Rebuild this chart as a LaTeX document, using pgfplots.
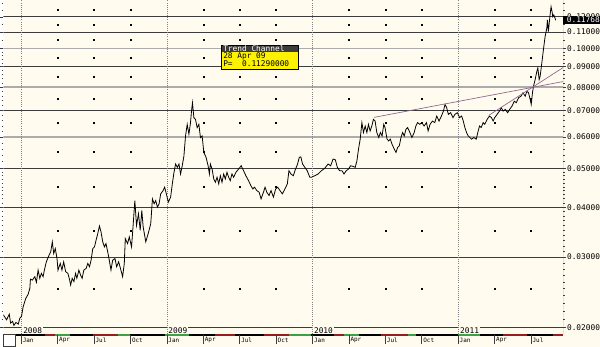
\documentclass[border=0pt]{standalone}
\usepackage{pgfplots}
\pgfplotsset{compat=1.18}
\usepackage{fontspec}
\setmainfont{DejaVu Sans}
\newfontfamily\monofont{DejaVu Sans Mono}
\definecolor{bg}{RGB}{255,251,238}
\definecolor{gridd}{RGB}{60,60,60}
\definecolor{gridl}{RGB}{172,172,172}
\definecolor{trend}{RGB}{140,100,140}
\definecolor{bgreen}{RGB}{60,160,70}
\definecolor{bred}{RGB}{150,30,30}
\newcommand{\lf}{\monofont\fontsize{5.9}{6}\selectfont}
\newcommand{\smf}{\monofont\fontsize{4.5}{5}\selectfont}
\begin{document}
\begin{tikzpicture}
\begin{scope}[x=0.75pt,y=-0.75pt]
\fill[bg] (0,0) rectangle (600,349);
\useasboundingbox (0,0) rectangle (600,349);
\end{scope}
\begin{axis}[
 at={(0pt,0pt)}, anchor=north west,
 scale only axis, width=422.25pt, height=252pt,
 ymode=log,
 xmin=-1.474, xmax=44.636, ymin=0.019246, ymax=0.1323,
 axis line style={draw=none},
 xtick=\empty,
 ytick={0.02,0.03,0.04,0.05,0.06,0.07,0.08,0.09,0.1,0.11,0.12},
 yticklabels={0.02000,0.03000,0.04000,0.05000,0.06000,0.07000,0.08000,0.09000,0.10000,0.11000,0.12000},
 minor ytick={0.021,0.022,0.023,0.024,0.025,0.026,0.027,0.028,0.029,0.031,0.032,0.033,0.034,0.035,0.036,0.037,0.038,0.039,0.041,0.042,0.043,0.044,0.045,0.046,0.047,0.048,0.049,0.052,0.054,0.056,0.058,0.062,0.064,0.066,0.068,0.072,0.074,0.076,0.078,0.082,0.084,0.086,0.088,0.092,0.094,0.096,0.098,0.105,0.115,0.125,0.13},
 yticklabel pos=right,
 tick align=outside,
 major tick length=2.25pt, minor tick length=1.2pt,
 tick style={gridd, line width=0.5pt},
 yticklabel style={font=\lf, text=black, inner sep=0pt, anchor=west, xshift=0.6pt},
 clip=true,
]
% horizontal grid lines
\pgfplotsinvokeforeach{0.02,0.03,0.04,0.05,0.07,0.09,0.11,0.12}{
 \addplot[gridd, line width=0.65pt, forget plot] coordinates {(-1.474,#1)(44.636,#1)};
}
\pgfplotsinvokeforeach{0.06,0.08,0.1}{
 \addplot[gridl, line width=1.3pt, forget plot] coordinates {(-1.474,#1)(44.636,#1)};
}
% Jan dotted verticals
\pgfplotsinvokeforeach{0,12,24,36}{
 \addplot[gray, line width=0.5pt, dash pattern=on 0.5pt off 1.1pt, forget plot] coordinates {(#1,0.019246)(#1,0.1323)};
}
% dot grid
\pgfplotsinvokeforeach{3,6,9,15,18,21,27,30,33,39,42}{
 \addplot[only marks, mark=square*, mark size=0.38pt, mark options={draw=none, fill=gray}, forget plot] coordinates {(#1,0.025)(#1,0.035)(#1,0.045)(#1,0.055)(#1,0.065)(#1,0.075)(#1,0.085)(#1,0.095)(#1,0.105)(#1,0.115)(#1,0.125)};
}
% price series
\addplot[black, line width=0.6pt] coordinates {
(-1.474,0.02150)(-1.204,0.02089)(-0.983,0.02158)(-0.876,0.02050)(-0.713,0.02070)(-0.598,0.02023)(-0.434,0.02058)(-0.246,0.02038)(-0.106,0.02110)(0.025,0.02130)(0.164,0.02256)(0.385,0.02366)(0.573,0.02421)(0.713,0.02506)(0.762,0.02642)(0.925,0.02628)(1.122,0.02680)(1.253,0.02594)(1.392,0.02783)(1.532,0.02654)(1.663,0.02731)(1.802,0.02680)(1.941,0.02810)(2.072,0.02920)(2.293,0.03033)(2.432,0.03093)(2.563,0.03276)(2.678,0.03063)(2.809,0.03152)(2.948,0.02976)(3.030,0.02783)(3.219,0.02892)(3.358,0.02783)(3.497,0.02920)(3.661,0.02758)(3.849,0.02731)(3.989,0.02628)(4.070,0.02553)(4.201,0.02654)(4.341,0.02604)(4.480,0.02731)(4.586,0.02654)(4.750,0.02783)(4.889,0.02704)(5.020,0.02654)(5.160,0.02783)(5.348,0.02810)(5.487,0.02892)(5.627,0.02838)(5.758,0.02947)(5.897,0.03152)(6.036,0.03183)(6.167,0.03305)(6.306,0.03435)(6.446,0.03590)(6.577,0.03469)(6.716,0.03276)(6.855,0.03183)(6.986,0.03244)(7.207,0.03005)
(7.396,0.02783)(7.535,0.02947)(7.723,0.02976)(7.862,0.02838)(8.026,0.02920)(8.215,0.02783)(8.354,0.02680)(8.493,0.02892)(8.575,0.03338)(8.763,0.03244)(8.903,0.03371)(9.091,0.03183)(9.230,0.03638)(9.361,0.04158)(9.500,0.03602)(9.664,0.03853)(9.803,0.03501)(9.935,0.03926)(10.049,0.03570)(10.262,0.03276)(10.459,0.03435)(10.672,0.03638)(10.811,0.04199)(10.950,0.04081)(11.081,0.04158)(11.220,0.04004)(11.360,0.04081)(11.491,0.04321)(11.687,0.04404)(11.818,0.04491)(11.957,0.04321)(12.121,0.04120)(12.310,0.04240)(12.449,0.04577)(12.588,0.04894)(12.719,0.05133)(12.859,0.05037)(12.998,0.05133)(13.129,0.04847)(13.268,0.05083)(13.407,0.05383)(13.538,0.06037)(13.677,0.06457)(13.817,0.06097)(13.948,0.06520)(14.030,0.06968)(14.111,0.07313)(14.226,0.06710)(14.357,0.06645)(14.496,0.06336)(14.636,0.06457)(14.767,0.05982)(14.906,0.06037)(15.045,0.05489)(15.233,0.05334)(15.397,0.05083)(15.504,0.04847)
(15.586,0.05133)(15.725,0.04988)(15.864,0.04710)(15.995,0.04621)(16.134,0.04756)(16.274,0.04577)(16.405,0.04799)(16.544,0.04621)(16.683,0.04847)(16.814,0.04710)(16.953,0.04894)(17.093,0.04756)(17.224,0.04663)(17.363,0.04847)(17.502,0.04756)(17.690,0.04894)(17.912,0.04988)(18.124,0.05083)(18.321,0.04939)(18.509,0.04799)(18.731,0.04663)(18.919,0.04532)(19.083,0.04447)(19.222,0.04491)(19.410,0.04404)(19.599,0.04364)(19.762,0.04199)(19.959,0.04364)(20.090,0.04491)(20.229,0.04364)(20.418,0.04279)(20.582,0.04404)(20.778,0.04240)(20.966,0.04447)(21.130,0.04491)(21.319,0.04404)(21.515,0.04321)(21.728,0.04447)(21.925,0.04577)(22.056,0.04939)(22.220,0.04847)(22.416,0.04799)(22.604,0.04988)(22.768,0.05133)(22.907,0.05334)(23.038,0.05352)(23.178,0.05133)(23.366,0.05037)(23.563,0.04939)(23.776,0.04756)
(23.915,0.04756)(24.185,0.04799)(24.464,0.04847)(24.734,0.04939)(25.004,0.05008)(25.283,0.05133)(25.496,0.05083)(25.692,0.05282)(25.880,0.05260)(26.044,0.05037)(26.233,0.04939)(26.429,0.04939)(26.593,0.04847)(26.781,0.04939)(26.970,0.04988)(27.134,0.05083)(27.330,0.05065)(27.518,0.05037)(27.658,0.05230)(27.789,0.05594)(27.928,0.05925)(28.067,0.06520)(28.198,0.06157)(28.337,0.06393)(28.477,0.06157)(28.608,0.06457)(28.747,0.06213)(28.886,0.06393)(29.017,0.06645)(29.156,0.06579)(29.296,0.06157)(29.459,0.05982)(29.590,0.06157)(29.730,0.06037)(29.869,0.06457)(29.975,0.06336)(30.139,0.05925)(30.278,0.05866)(30.409,0.05925)(30.549,0.05757)(30.737,0.05594)(30.876,0.05489)(31.015,0.05649)(31.147,0.05700)(31.286,0.05982)(31.425,0.06157)(31.556,0.06037)(31.695,0.06274)(31.835,0.06336)(32.023,0.06157)(32.187,0.05982)(32.375,0.06157)(32.514,0.06393)(32.654,0.06520)(32.842,0.06457)(33.006,0.06520)(33.194,0.06393)(33.391,0.06520)(33.522,0.06213)(33.686,0.06457)(33.882,0.06579)(34.070,0.06520)(34.234,0.06771)(34.423,0.06579)(34.619,0.06771)(34.783,0.06968)(34.914,0.07242)(35.053,0.07106)(35.192,0.06838)(35.381,0.06905)(35.569,0.06710)(35.733,0.06838)(35.930,0.06905)(36.118,0.06710)(36.282,0.06771)(36.421,0.06579)(36.552,0.06336)(36.691,0.06157)(36.830,0.06037)(36.962,0.05982)(37.101,0.05925)(37.289,0.05982)(37.486,0.05925)(37.617,0.06157)(37.756,0.06393)(37.895,0.06336)(38.059,0.06520)(38.190,0.06457)(38.387,0.06645)(38.575,0.06771)(38.739,0.06710)(38.878,0.06579)(39.009,0.06710)(39.206,0.06838)(39.394,0.06968)(39.558,0.07106)(39.697,0.06968)(39.885,0.07037)(40.074,0.06905)(40.238,0.07037)(40.434,0.07171)(40.623,0.07379)(40.786,0.07313)(40.975,0.07526)(41.171,0.07594)(41.335,0.07744)(41.523,0.07594)(41.663,0.07815)(41.794,0.07744)(41.933,0.07453)(42.015,0.07242)(42.121,0.07744)(42.203,0.08043)
(42.342,0.08359)(42.481,0.08765)(42.563,0.08939)(42.670,0.08359)(42.752,0.08517)(42.891,0.09199)(43.022,0.09929)(43.161,0.1071)(43.301,0.1124)(43.350,0.1179)(43.432,0.1103)(43.514,0.1168)(43.571,0.1214)(43.653,0.1273)(43.735,0.1237)(43.792,0.1202)(43.874,0.1214)(43.980,0.1191)(44.038,0.11768)
};
% trend channel lines
\addplot[trend, line width=0.5pt] coordinates {(29.075,0.06721)(44.636,0.08262)};
\addplot[trend, line width=0.5pt] coordinates {(38.518,0.06798)(44.636,0.08954)};
% right axis line
\draw[gridd, line width=0.6pt] (rel axis cs:1,0) -- (rel axis cs:1,1);
\end{axis}
\begin{scope}[x=0.75pt,y=-0.75pt]
% year labels
\foreach \xx/\yy in {19/2008,165/2009,311.5/2010,458.5/2011}{
 \node[fill=bg, inner xsep=0.6pt, inner ysep=1pt, anchor=south west, font=\lf] at (\xx,337.2) {\yy};
}
% bottom band
\fill[bg] (12,336.4) rectangle (600,349);
\draw[gridd, line width=0.5pt] (12,336.6) -- (563,336.6);
\foreach \a/\b/\c in {13/42/black,42/52/bred,52/67/bgreen,67/90/black,90/115/bred,115/127/bgreen,127/163/black,163/187/bgreen,187/213/black,213/233/bred,233/262/black,262/287/bred,287/310/bgreen,310/333/black,333/343/bred,343/358/bgreen,358/380/black,380/407/bred,407/415/bgreen,415/457/black,457/480/bgreen,480/503/black,503/527/bred,527/553/black,553/563/bred}{
 \fill[\c] (\a,335.6) rectangle (\b,337.8);
}
\draw[gridd, line width=0.6pt, fill=white] (0.5,336.5) rectangle (12,348.5);
\foreach \m/\lab in {0/Jan,3/Apr,6/Jul,9/Oct,12/Jan,15/Apr,18/Jul,21/Oct,24/Jan,27/Apr,30/Jul,33/Oct,36/Jan,39/Apr,42/Jul}{
 \pgfmathsetmacro\xx{18+12.21*\m}
 \draw[gridd, line width=0.5pt] (\xx,337) -- (\xx,346.5);
 \node[anchor=west, inner sep=0pt, font=\smf] at (\xx+1.3,342.3) {\lab};
}
% current price box
\fill[black] (563,16) rectangle (600,23.8);
\node[anchor=west, inner sep=0pt, text=white, font=\lf] at (566.6,20) {0.11768};
% Trend Channel box
\fill[gridd] (219,46) rectangle (297,52);
\fill[yellow] (219,52) rectangle (297,69.3);
\draw[black, line width=0.5pt] (219,46) rectangle (297,69.3);
\node[anchor=west, inner sep=0pt, text=white, font=\lf] at (221,49.2) {Trend Channel};
\node[anchor=west, inner sep=0pt, font=\lf] at (221,56.5) {28 Apr 09};
\node[anchor=west, inner sep=0pt, font=\lf] at (221,64.5) {P=\ \ 0.11290000};
\end{scope}
\end{tikzpicture}
\end{document}
